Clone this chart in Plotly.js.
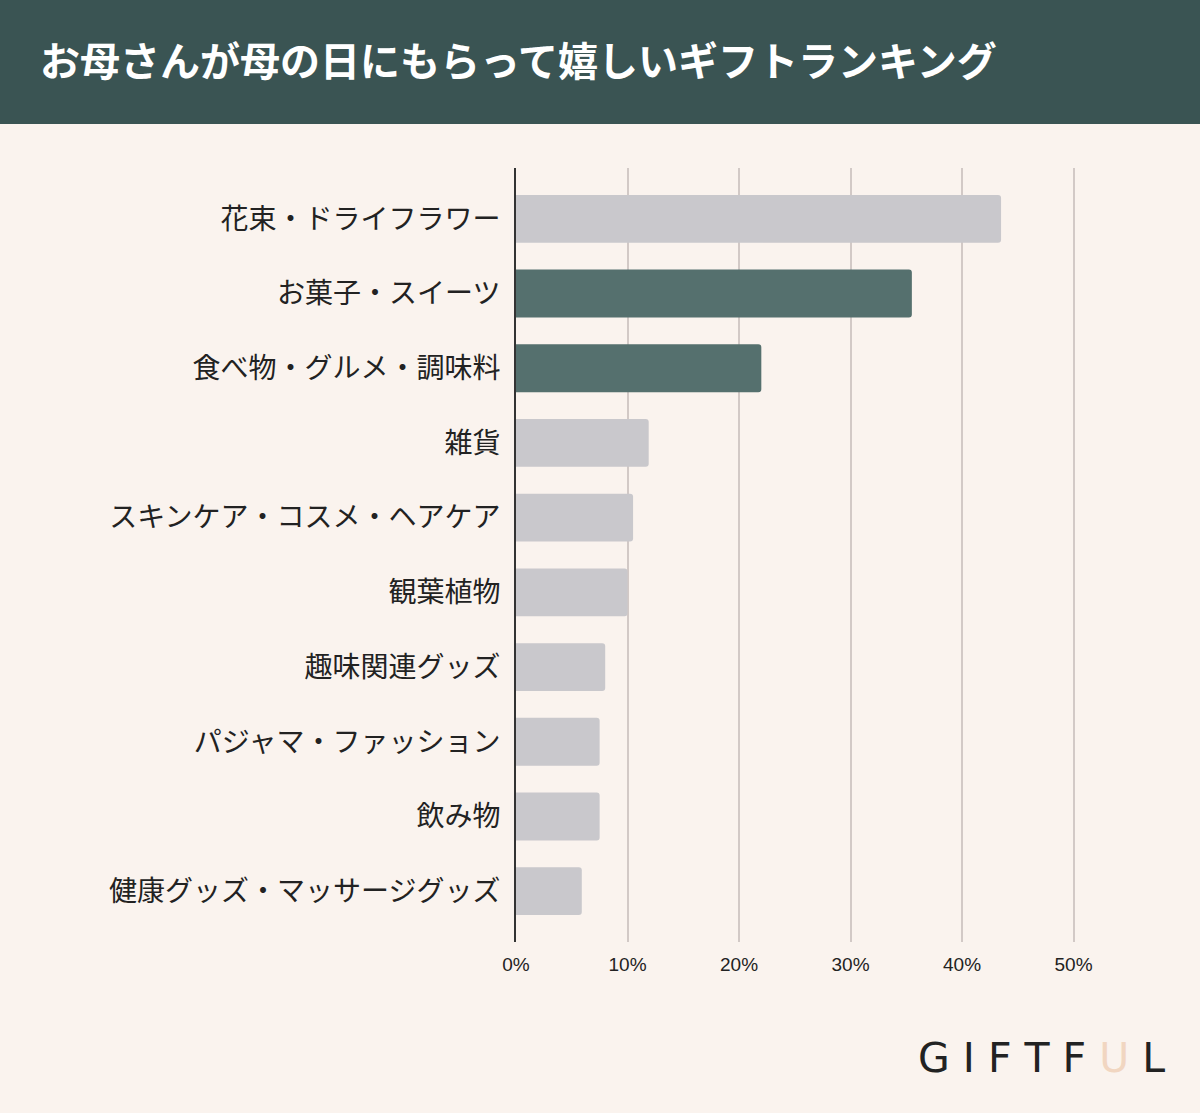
<!DOCTYPE html>
<html>
<head>
<meta charset="utf-8">
<script src="https://cdn.plot.ly/plotly-3.0.1.min.js"></script>
<style>
html,body{margin:0;padding:0;background:#faf3ee;}
#chart{width:1200px;height:1113px;}
</style>
</head>
<body>
<div id="chart"></div>
<script>
const categories = [
  "花束・ドライフラワー",
  "お菓子・スイーツ",
  "食べ物・グルメ・調味料",
  "雑貨",
  "スキンケア・コスメ・ヘアケア",
  "観葉植物",
  "趣味関連グッズ",
  "パジャマ・ファッション",
  "飲み物",
  "健康グッズ・マッサージグッズ"
];
const values = [43.5, 35.5, 22.0, 11.9, 10.5, 10.0, 8.0, 7.5, 7.5, 5.9];
const highlighted = ["お菓子・スイーツ", "食べ物・グルメ・調味料"];
const tickValues = [0, 10, 20, 30, 40, 50];
const tickLabels = ["0%", "10%", "20%", "30%", "40%", "50%"];
const chartTitle = "お母さんが母の日にもらって嬉しいギフトランキング";

const GRAY = "#c9c8cc", TEAL = "#55706e";
const colors = categories.map(c => highlighted.includes(c) ? TEAL : GRAY);

const W = 1200, H = 1113;
const mT = 168, mB = 171, mL = 516, mR = 93;
const plotH = H - mT - mB;
const py = y => 1 + (mT - y) / plotH;  // pixel -> paper y

const trace = {
  type: "bar",
  orientation: "h",
  y: categories,
  x: values,
  marker: { color: colors, cornerradius: 3, line: { width: 0 } },
  width: 0.64,
  hoverinfo: "none"
};

const layout = {
  width: W, height: H,
  paper_bgcolor: "#faf3ee",
  plot_bgcolor: "#faf3ee",
  margin: { l: mL, r: mR, t: mT, b: mB, pad: 0 },
  showlegend: false,
  font: { family: "'Noto Sans CJK JP', 'Noto Sans', sans-serif", color: "#222" },
  title: {
    text: chartTitle,
    x: 40 / W, xanchor: "left", xref: "container",
    y: 1 - 62 / H, yanchor: "middle", yref: "container",
    font: { family: "'Noto Sans CJK JP', sans-serif", size: 40, color: "#ffffff", weight: 700 }
  },
  xaxis: {
    range: [0, 53],
    tickvals: tickValues,
    ticktext: tickLabels,
    showgrid: true,
    gridcolor: "#d2c9c6",
    gridwidth: 2,
    zeroline: false,
    showline: false,
    ticks: "",
    ticklabelstandoff: 9,
    tickfont: { family: "'Liberation Sans', Arial, sans-serif", size: 19, color: "#222" },
    fixedrange: true
  },
  yaxis: {
    type: "category",
    range: [9.68, -0.68],
    showgrid: false,
    zeroline: false,
    showline: true,
    linecolor: "#333333",
    linewidth: 2,
    ticks: "",
    ticklabelstandoff: 8,
    tickfont: { family: "'Noto Sans CJK JP', sans-serif", size: 28, color: "#222" },
    fixedrange: true
  },
  shapes: [
    {
      type: "rect", xref: "paper", yref: "paper", layer: "below",
      x0: -mL / (W - mL - mR), x1: 1 + mR / (W - mL - mR),
      y0: py(124), y1: py(0),
      fillcolor: "#3a5453", line: { width: 0 }
    }
  ],
  annotations: [
    {
      xref: "paper", yref: "paper",
      x: (1041 - mL) / (W - mL - mR), y: py(1058),
      xanchor: "center", yanchor: "middle", showarrow: false,
      text: "G I F T F <span style='color:#f1d6c1'>U</span> L",
      font: { family: "'DejaVu Sans', sans-serif", size: 41, color: "#222222", weight: 400 }
    }
  ]
};

Plotly.newPlot("chart", [trace], layout, { displayModeBar: false, staticPlot: true });
</script>
</body>
</html>
